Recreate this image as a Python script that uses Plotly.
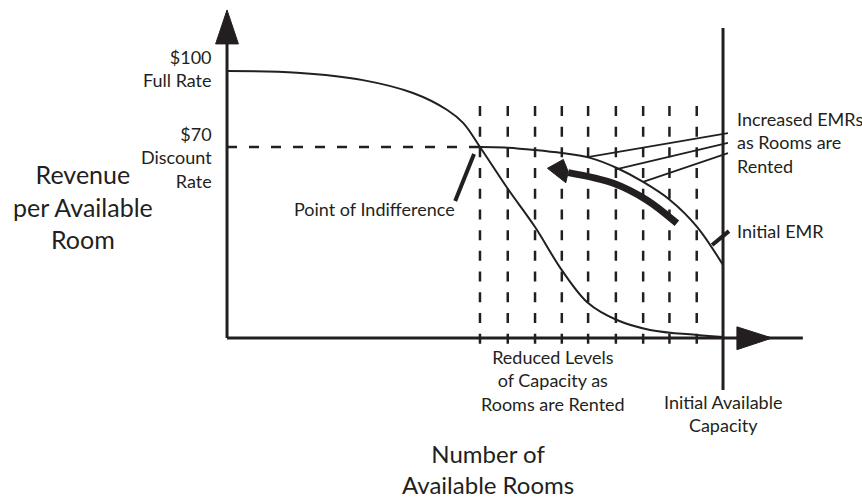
import plotly.graph_objects as go

# ---- data (x: number of available rooms, capacity = 100; y: revenue per available room, $) ----
full_rate_x = [0, 14.1, 27.4, 37.5, 44.4, 47.6, 51.0, 56.5, 62.1, 67.5, 72.8, 78.6, 85.3, 94.8, 100]
full_rate_y = [100, 99.3, 96.4, 91.3, 84.6, 79.5, 70.0, 53.8, 38.4, 21.4, 8.4, 1.7, -2.2, -4.2, -5.0]

emr_x = [51.0, 56.0, 62.1, 67.5, 73.2, 78.6, 83.9, 89.3, 94.8, 100]
emr_y = [70.0, 69.8, 68.8, 67.6, 65.7, 61.7, 56.2, 49.1, 38.4, 23.4]

capacity_levels = [51.0, 56.6, 62.1, 67.5, 72.8, 78.4, 83.9, 89.2, 94.7]
initial_capacity = 100
full_rate = 100
discount_rate = 70
axis_base = -5.4

big_arrow_x = [90.7, 84.6, 77.9, 68.8]
big_arrow_y = [39.9, 49.1, 55.7, 59.9]

FONT = "Lato"
INK = "#231f20"

fig = go.Figure()

def line(xs, ys, width=2, dash=None, shape="linear", color=INK):
    fig.add_trace(go.Scatter(x=xs, y=ys, mode="lines", hoverinfo="skip",
                             line=dict(color=color, width=width, dash=dash, shape=shape,
                                       smoothing=1.0 if shape == "spline" else None)))

def poly(xs, ys):
    fig.add_trace(go.Scatter(x=xs, y=ys, mode="lines", fill="toself", fillcolor=INK,
                             hoverinfo="skip", line=dict(color=INK, width=1)))

# dashed verticals: reduced capacity levels
for cx in capacity_levels:
    line([cx, cx], [86.2, -7.8], width=2.5, dash="10px,10.7px")

# dashed horizontal at discount rate
line([0, capacity_levels[0]], [discount_rate, discount_rate], width=2.5, dash="10px,12px")

# axes
line([0, 0], [axis_base, 111], width=3)
poly([-2.3, 2.3, 0, -2.3], [110.7, 110.7, 124.1, 110.7])
line([0, 116.1], [axis_base, axis_base], width=3)
poly([102.8, 102.8, 109.9, 102.8], [-1.0, -10.0, axis_base, -1.0])

# initial capacity line
line([initial_capacity, initial_capacity], [117.0, -25.9], width=3)

# curves
line(full_rate_x, full_rate_y, width=2, shape="spline")
line(emr_x, emr_y, width=2, shape="spline")

# big curved arrow
line(big_arrow_x, big_arrow_y, width=7, shape="spline")
poly([64.6, 67.8, 68.8, 68.3, 64.6], [61.6, 65.1, 60.2, 55.9, 61.6])

# leader lines
line([49.8, 46.0], [67.2, 48.7], width=4)           # point of indifference
line([97.8, 101.2], [31.3, 36.8], width=4)          # initial EMR
line([101.0, 73.0], [75.5, 66.1], width=1.8)
line([101.0, 78.6], [71.6, 61.3], width=1.8)
line([101.0, 83.9], [67.6, 56.2], width=1.8)

def text(x, y, s, size=18, xanchor="center", align="center"):
    fig.add_annotation(x=x, y=y, text=s, showarrow=False, xanchor=xanchor, yanchor="middle",
                       align=align, font=dict(family=FONT, size=size, color=INK))

text(-2.6, 101.0, "$100<br>Full Rate", xanchor="right", align="right")
text(-2.6, 66.05, "$70<br>Discount<br>Rate", xanchor="right", align="right")
text(-29.0, 46.7, "Revenue<br>per Available<br>Room", size=25)
text(29.8, 45.5, "Point of Indifference")
text(65.7, -22.0, "Reduced Levels<br>of Capacity as<br>Rooms are Rented")
text(100.0, -35.0, "Initial Available<br>Capacity")
text(52.6, -57.0, "Number of<br>Available Rooms", size=24)
text(102.4, 71.6, "Increased EMRs<br>as Rooms are<br>Rented", xanchor="left", align="left")
text(102.4, 36.8, "Initial EMR", xanchor="left", align="left")

fig.update_layout(
    width=862, height=502, margin=dict(l=0, r=0, t=0, b=0),
    paper_bgcolor="white", plot_bgcolor="white", showlegend=False,
    xaxis=dict(range=[-45.77, 128.02], visible=False, fixedrange=True),
    yaxis=dict(range=[-70.13, 128.03], visible=False, fixedrange=True),
)
fig.write_html("out.html", config={"displayModeBar": False},
               post_script="document.body.style.margin='0';document.body.style.overflow='hidden';")
